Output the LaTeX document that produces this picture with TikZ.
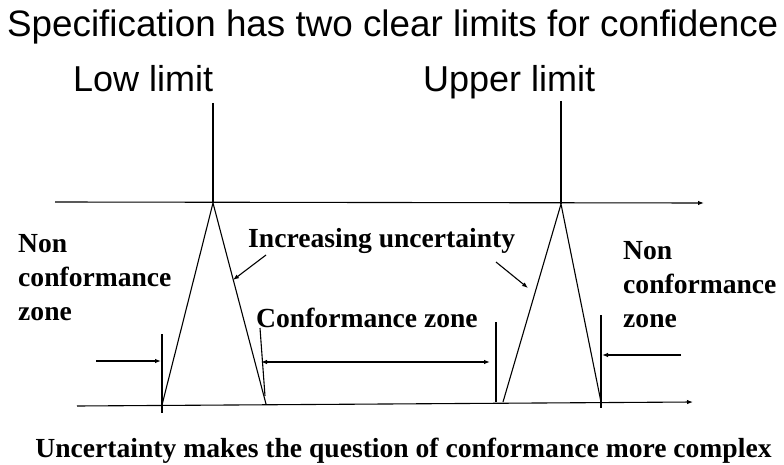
\documentclass[tikz,border=0pt]{standalone}
\usepackage{fontspec}
\setmainfont{Liberation Serif}
\newfontfamily\arialfont{Liberation Sans}
\usetikzlibrary{arrows.meta}
\begin{document}
\begin{tikzpicture}[x=1pt,y=-1pt,
  ln/.style={line width=1.1pt},
  arr/.style={ln,-{Latex[length=6pt,width=4.5pt]}},
  darr/.style={ln,{Latex[length=6pt,width=4.5pt]}-{Latex[length=6pt,width=4.5pt]}},
  sanslbl/.style={inner sep=0pt,anchor=base west,font=\arialfont\fontsize{36}{40}\selectfont},
  boldlbl/.style={inner sep=0pt,font=\bfseries\fontsize{27.6}{34}\selectfont}]
\useasboundingbox (0,0) rectangle (784,465);
% titles
\node[sanslbl,font=\arialfont\fontsize{36.8}{40}\selectfont] (title) at (7,37) {Specification has two clear limits for confidence};
\node[sanslbl] (low) at (73,92) {Low limit};
\node[sanslbl] (up) at (423,92) {Upper limit};
% coordinates
\coordinate (topL) at (55,202);
\coordinate (topR) at (704,203);
\coordinate (botL) at (77,406);
\coordinate (botR) at (693,402);
\coordinate (lowTop) at (213,103);
\coordinate (lowApex) at (213,203);
\coordinate (upTop) at (561,101);
\coordinate (upApex) at (561,204);
\coordinate (t1L) at (162,405);
\coordinate (t1R) at (266,404);
\coordinate (t2L) at (503,402);
\coordinate (t2R) at (601,402);
\coordinate (k1a) at (162,334); \coordinate (k1b) at (162,413);
\coordinate (k2a) at (260,328); \coordinate (k2b) at (265,396);
\coordinate (k3a) at (496,322); \coordinate (k3b) at (496,402);
\coordinate (k4a) at (601,315); \coordinate (k4b) at (601,408);
\coordinate (a1s) at (96,361); \coordinate (a1e) at (161,361);
\coordinate (a2s) at (261,362); \coordinate (a2e) at (490,362);
\coordinate (a3s) at (681,355); \coordinate (a3e) at (602,355);
\coordinate (c1s) at (266,255); \coordinate (c1e) at (233,280);
\coordinate (c2s) at (496,262); \coordinate (c2e) at (528,288);
% axes
\draw[arr] (topL) -- (topR);
\draw[arr] (botL) -- (botR);
\draw[ln] (lowTop) -- (lowApex);
\draw[ln] (upTop) -- (upApex);
% triangles
\draw[ln] (t1L) -- (lowApex) -- (t1R);
\draw[ln] (t2L) -- (upApex) -- (t2R);
% ticks
\draw[ln] (k1a) -- (k1b);
\draw[ln] (k2a) -- (k2b);
\draw[ln] (k3a) -- (k3b);
\draw[ln] (k4a) -- (k4b);
% zone arrows
\draw[arr] (a1s) -- (a1e);
\draw[darr] (a2s) -- (a2e);
\draw[arr] (a3s) -- (a3e);
% callouts
\draw[arr] (c1s) -- (c1e);
\draw[arr] (c2s) -- (c2e);
% labels
\node[boldlbl,anchor=base west] (inc) at (248,247) {Increasing uncertainty};
\node[boldlbl,anchor=base west] (conf) at (256,327) {Conformance zone};
\node[boldlbl,anchor=north west,align=left] (ncl) at (18,234.5) {Non\\conformance\\zone};
\node[boldlbl,anchor=north west,align=left] (ncr) at (623,241.5) {Non\\conformance\\zone};
\node[boldlbl,anchor=base] (cap) at (403.5,457) {Uncertainty makes the question of conformance more complex};
\end{tikzpicture}
\end{document}
